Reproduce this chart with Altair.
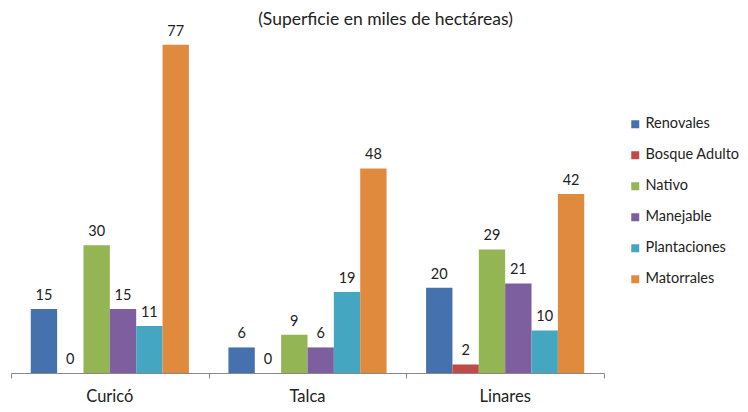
import altair as alt
import pandas as pd

regions = ["Curicó", "Talca", "Linares"]
series = ["Renovales", "Bosque Adulto", "Nativo", "Manejable", "Plantaciones", "Matorrales"]
colors = ["#4572AE", "#BE4B48", "#93B553", "#7D5FA0", "#45A6C2", "#E08A3E"]
values = {
    "Curicó": [15, 0, 30, 15, 11, 77],
    "Talca": [6, 0, 9, 6, 19, 48],
    "Linares": [20, 2, 29, 21, 10, 42],
}
boundaries = [0, 1, 2, 3]

rows = []
for r in regions:
    for s, v in zip(series, values[r]):
        rows.append({"region": r, "serie": s, "valor": v})
df = pd.DataFrame(rows)
bdf = pd.DataFrame({"b": boundaries})

FONT = "Lato"
W, H = 593, 341

x = alt.X("region:N", sort=regions,
          scale=alt.Scale(paddingInner=0, paddingOuter=0),
          axis=alt.Axis(title=None, ticks=False, domain=False, labelAngle=0,
                        orient="bottom",
                        labelPadding=15, labelFontSize=16.5, labelColor="#222",
                        labelFont=FONT))
xo = alt.XOffset("serie:N", sort=series,
                 scale=alt.Scale(paddingInner=0, paddingOuter=0.75))
y = alt.Y("valor:Q", scale=alt.Scale(domain=[0, 80], nice=False), axis=None)

bars = alt.Chart(df).mark_bar().encode(
    x=x, xOffset=xo, y=y,
    color=alt.Color("serie:N", sort=series,
                    scale=alt.Scale(domain=series, range=colors),
                    legend=alt.Legend(title=None, orient="none", legendX=617, legendY=85,
                                      symbolType="square", symbolSize=64,
                                      symbolStrokeWidth=0, labelFontSize=14.5,
                                      labelFont=FONT, labelColor="#222",
                                      rowPadding=16, padding=0, labelOffset=3)),
)
labels = alt.Chart(df).mark_text(baseline="bottom", dy=-6, fontSize=14.5, font=FONT,
                                 color="#222").encode(
    x=x, xOffset=xo, y=y, text="valor:Q")

groups = alt.layer(bars, labels)

ticks = alt.Chart(bdf).mark_rule(opacity=0).encode(
    x=alt.X("b:Q", scale=alt.Scale(domain=[0, 3], nice=False, zero=False),
            axis=alt.Axis(title=None, values=boundaries, labels=False, tickSize=5,
                          orient="bottom",
                          tickColor="#888", domainColor="#888", grid=False)),
)

chart = alt.layer(groups, ticks).resolve_scale(x="independent").properties(
    width=W, height=H,
    title=alt.TitleParams("(Superficie en miles de hectáreas)", fontSize=17.5,
                          font=FONT, fontWeight="normal", color="#222",
                          anchor="middle", dx=78, dy=5, offset=0),
    autosize=alt.AutoSizeParams(type="none"),
    padding={"left": 3, "top": 24, "right": 136, "bottom": 31},
).configure_view(stroke=None)

chart.save("out.html", embed_options={"renderer": "svg", "actions": False})
